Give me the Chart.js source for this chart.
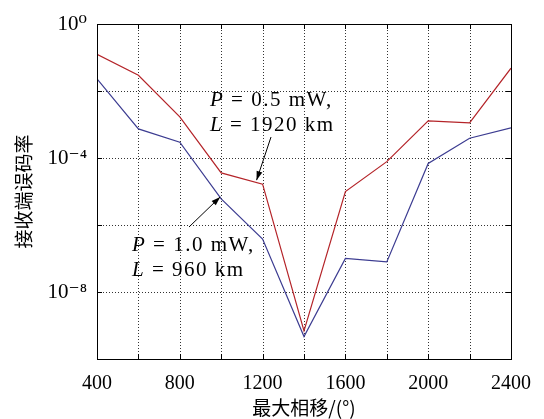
<!DOCTYPE html>
<html>
<head>
<meta charset="utf-8">
<script src="https://cdn.jsdelivr.net/npm/chart.js@4/dist/chart.umd.min.js"></script>
<style>
  html,body{margin:0;padding:0;background:#fff;}
  #c{display:block;}
</style>
</head>
<body>
<canvas id="c" width="544" height="419"></canvas>
<script>
// ---- data ----
const phaseShift = [400, 600, 800, 1000, 1200, 1400, 1600, 1800, 2000, 2200, 2400];
const berP05 = [1.25e-1, 2.95e-2, 1.7e-3, 3.6e-5, 1.66e-5, 6.9e-10, 1.0e-5, 7.8e-5, 1.29e-3, 1.12e-3, 4.8e-2];
const berP10 = [2.3e-2, 7.4e-4, 2.95e-4, 6.0e-6, 3.8e-7, 4.7e-10, 1.0e-7, 7.9e-8, 6.9e-5, 3.9e-4, 7.9e-4];
const xTickLabels = [400, 800, 1200, 1600, 2000, 2400];
const yGridValues = [1e-10, 1e-8, 1e-6, 1e-4, 1e-2, 1e0];
const yTickLabels = {"1": "10\u2070", "0.0001": "10\u207B\u2074", "1e-8": "10\u207B\u2078"};
const xTitle = "最大相移/(°)";
const yTitle = "接收端误码率";
const annotations = [
  {lines: [["P", " = 0.5 mW,"], ["L", " = 1920 km"]], series: 0, index: 4},
  {lines: [["P", " = 1.0 mW,"], ["L", " = 960 km"]], series: 1, index: 3}
];

const serif = "'Liberation Serif', 'DejaVu Serif', serif";
const cjk = "'Noto Sans CJK SC', sans-serif";

const dottedGrid = {
  id: 'dottedGrid',
  beforeDatasetsDraw(chart) {
    const {ctx, chartArea: a, scales} = chart;
    ctx.save();
    ctx.strokeStyle = '#333';
    ctx.lineWidth = 1;
    ctx.setLineDash([1, 2]);
    ctx.beginPath();
    scales.x.ticks.forEach(t => {
      const x = Math.round(scales.x.getPixelForValue(t.value)) + 0.5;
      ctx.moveTo(x, a.top); ctx.lineTo(x, a.bottom);
    });
    scales.y.ticks.forEach(t => {
      const y = Math.round(scales.y.getPixelForValue(t.value)) + 0.5;
      ctx.moveTo(a.left, y); ctx.lineTo(a.right, y);
    });
    ctx.stroke();
    ctx.restore();
  }
};

const frame = {
  id: 'frame',
  afterDraw(chart) {
    const {ctx, chartArea: a, scales} = chart;
    ctx.save();
    ctx.strokeStyle = '#000';
    ctx.lineWidth = 1;
    ctx.beginPath();
    scales.x.ticks.forEach(t => {
      const x = Math.round(scales.x.getPixelForValue(t.value)) + 0.5;
      ctx.moveTo(x, a.bottom); ctx.lineTo(x, a.bottom - 5);
      ctx.moveTo(x, a.top); ctx.lineTo(x, a.top + 5);
    });
    scales.y.ticks.forEach(t => {
      const y = Math.round(scales.y.getPixelForValue(t.value)) + 0.5;
      ctx.moveTo(a.left, y); ctx.lineTo(a.left + 5, y);
      ctx.moveTo(a.right, y); ctx.lineTo(a.right - 5, y);
    });
    ctx.stroke();
    ctx.strokeRect(Math.round(a.left) + 0.5, Math.round(a.top) + 0.5,
                   Math.round(a.right - a.left), Math.round(a.bottom - a.top));

    const textPos = [{x: 210, y: 100}, {x: 132, y: 245}];
    const arrowStart = [{x: 271, y: 137}, {x: 189, y: 227}];
    const tipOffset = [{dx: -6, dy: -4}, {dx: -1, dy: -2}];
    annotations.forEach((an, i) => {
      ctx.fillStyle = '#000';
      ctx.textBaseline = 'middle';
      ctx.textAlign = 'left';
      ctx.letterSpacing = '1.5px';
      an.lines.forEach((ln, j) => {
        let x = textPos[i].x;
        const y = textPos[i].y + j * 25;
        ctx.font = 'italic 21px ' + serif;
        ctx.fillText(ln[0], x, y);
        x += ctx.measureText(ln[0]).width;
        ctx.font = '21px ' + serif;
        ctx.fillText(ln[1], x, y);
      });
      ctx.letterSpacing = '0px';
      const ds = chart.data.datasets[an.series];
      const px = scales.x.getPixelForValue(phaseShift[an.index]) + tipOffset[i].dx;
      const py = scales.y.getPixelForValue(ds.data[an.index]) + tipOffset[i].dy;
      const sx = arrowStart[i].x, sy = arrowStart[i].y;
      const ang = Math.atan2(py - sy, px - sx);
      ctx.strokeStyle = '#000';
      ctx.lineWidth = 1;
      ctx.beginPath();
      ctx.moveTo(sx, sy); ctx.lineTo(px, py); ctx.stroke();
      const L = 9, W = 3;
      ctx.beginPath();
      ctx.moveTo(px, py);
      ctx.lineTo(px - L * Math.cos(ang) + W * Math.sin(ang), py - L * Math.sin(ang) - W * Math.cos(ang));
      ctx.lineTo(px - L * Math.cos(ang) - W * Math.sin(ang), py - L * Math.sin(ang) + W * Math.cos(ang));
      ctx.closePath();
      ctx.fill();
    });
    ctx.restore();
  }
};

new Chart(document.getElementById('c'), {
  type: 'line',
  data: {
    labels: phaseShift,
    datasets: [
      {label: 'P=0.5 mW, L=1920 km', data: berP05, borderColor: 'rgb(180,35,40)', borderWidth: 1.2, pointRadius: 0, tension: 0, fill: false},
      {label: 'P=1.0 mW, L=960 km', data: berP10, borderColor: 'rgb(60,60,145)', borderWidth: 1.2, pointRadius: 0, tension: 0, fill: false}
    ]
  },
  options: {
    responsive: false,
    animation: false,
    devicePixelRatio: 1,
    layout: {padding: {top: 24, right: 23, left: 0, bottom: 0}},
    plugins: {legend: {display: false}, tooltip: {enabled: false}},
    scales: {
      x: {
        type: 'linear',
        min: 400, max: 2400,
        afterFit: s => { s.height = 60; },
        afterBuildTicks: s => { s.ticks = phaseShift.map(v => ({value: v})); },
        grid: {display: false, drawTicks: false},
        border: {display: false},
        ticks: {
          padding: 13,
          maxRotation: 0,
          autoSkip: false,
          color: '#000',
          font: {family: serif, size: 20},
          callback: v => xTickLabels.includes(v) ? String(v) : ''
        },
        title: {display: true, text: xTitle, color: '#000', font: {family: cjk, size: 19}, padding: {top: 0, bottom: 0}}
      },
      y: {
        type: 'logarithmic',
        min: 1e-10, max: 1,
        afterFit: s => { s.width = 97; },
        afterBuildTicks: s => { s.ticks = yGridValues.map(v => ({value: v})); },
        grid: {display: false, drawTicks: false},
        border: {display: false},
        ticks: {
          padding: 10,
          autoSkip: false,
          color: '#000',
          font: {family: serif, size: 21},
          callback: v => yTickLabels[String(v)] || ''
        },
        title: {display: true, text: yTitle, color: '#000', font: {family: cjk, size: 19}, padding: {top: 12, bottom: 0}}
      }
    }
  },
  plugins: [dottedGrid, frame]
});
</script>
</body>
</html>
